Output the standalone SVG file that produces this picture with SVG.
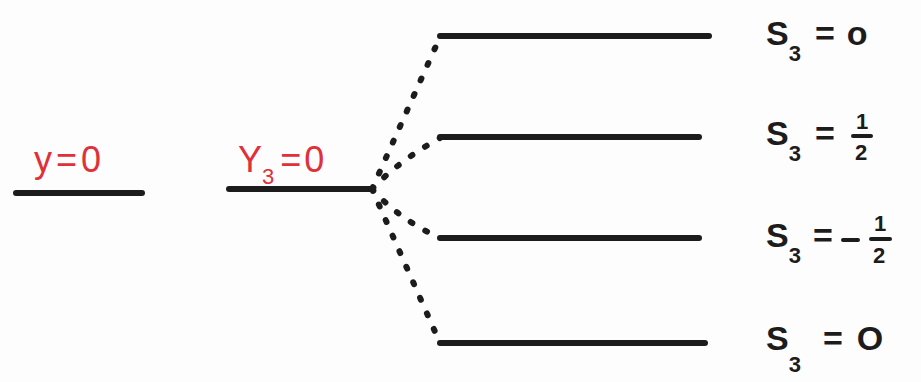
<svg xmlns="http://www.w3.org/2000/svg" width="921" height="382" viewBox="0 0 921 382">
<style>
.lvl{stroke:#1c1c1c;stroke-width:6;stroke-linecap:round;fill:none}
.dot{stroke:#1c1c1c;stroke-width:6;stroke-linecap:round;stroke-dasharray:2 15;fill:none}
.red{fill:#e0303a;font-family:"Liberation Sans",Arial,sans-serif;font-size:36px}
.blk{fill:#1c1c1c;font-family:"Liberation Sans",Arial,sans-serif;font-weight:bold;font-size:34px}
.sub{font-size:22px}
.frac{font-size:22px}
.bar{stroke:#1c1c1c;stroke-width:4;stroke-linecap:round}
</style>
<rect width="921" height="382" fill="#fdfdfd"/>
<g id="level-y0">
<line class="lvl" x1="16" y1="193" x2="142" y2="193"/>
<text class="red" x="34" y="172" letter-spacing="4">y=0</text>
</g>
<g id="level-y3">
<line class="lvl" x1="229" y1="189" x2="372" y2="189"/>
<text class="red" x="238" y="172">Y<tspan class="sub" dy="12">3</tspan><tspan dy="-12" dx="6" letter-spacing="3">=0</tspan></text>
</g>
<g id="connectors">
<path class="dot" d="M372 189 L440 37"/>
<path class="dot" d="M372 189 Q400 160 440 138"/>
<path class="dot" d="M372 189 Q400 220 440 238"/>
<path class="dot" d="M372 189 L440 343"/>
</g>
<g id="level-s3-0a">
<line class="lvl" x1="440" y1="36" x2="709" y2="36"/>
<text class="blk" x="766" y="45">S<tspan class="sub" dy="16">3</tspan><tspan dy="-16" dx="14">=</tspan><tspan dx="12">o</tspan></text>
</g>
<g id="level-s3-half">
<line class="lvl" x1="440" y1="137" x2="699" y2="137"/>
<text class="blk" x="766" y="145">S<tspan class="sub" dy="16">3</tspan><tspan dy="-16" dx="14">=</tspan></text>
<text class="blk frac" x="856" y="129">1</text>
<line class="bar" x1="853" y1="136" x2="871" y2="136"/>
<text class="blk frac" x="855" y="160">2</text>
</g>
<g id="level-s3-minushalf">
<line class="lvl" x1="440" y1="238" x2="699" y2="238"/>
<text class="blk" x="766" y="247">S<tspan class="sub" dy="16">3</tspan><tspan dy="-16" dx="12">=</tspan></text>
<line class="bar" x1="843" y1="240" x2="858" y2="240"/>
<text class="blk frac" x="874" y="231">1</text>
<line class="bar" x1="871" y1="239" x2="890" y2="239"/>
<text class="blk frac" x="873" y="263">2</text>
</g>
<g id="level-s3-0b">
<line class="lvl" x1="440" y1="343" x2="705" y2="343"/>
<text class="blk" x="766" y="350">S<tspan class="sub" dy="22">3</tspan><tspan dy="-22" dx="22">=</tspan><tspan dx="14">O</tspan></text>
</g>
</svg>
